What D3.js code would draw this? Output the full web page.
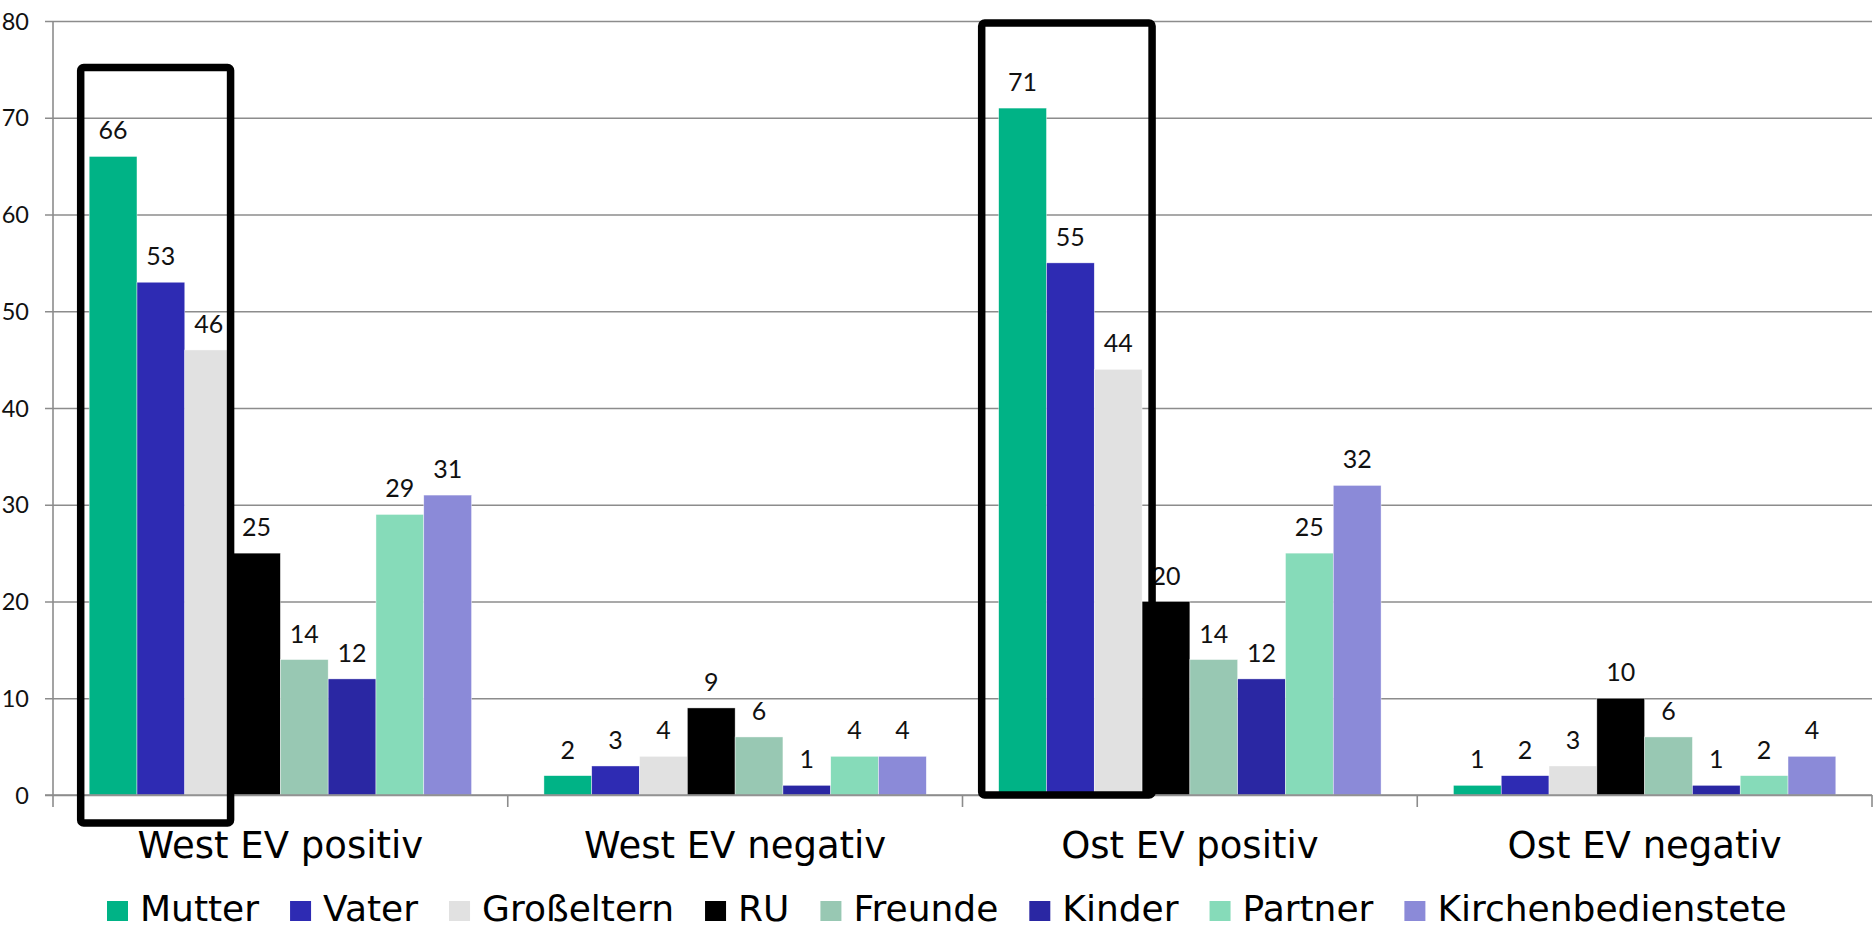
<!DOCTYPE html>
<html>
<head>
<meta charset="utf-8">
<script src="https://cdn.jsdelivr.net/npm/d3@7"></script>
<style>
  html, body { margin: 0; padding: 0; background: #fff; }
  svg { display: block; }
</style>
</head>
<body>
<svg id="chart" width="1874" height="930"></svg>
<script>
// Groups on the x axis
const categories = ["West EV positiv", "West EV negativ", "Ost EV positiv", "Ost EV negativ"];

// Persons named in the survey (legend order)
const seriesNames = ["Mutter", "Vater", "Großeltern", "RU", "Freunde", "Kinder", "Partner", "Kirchenbedienstete"];
const seriesColors = ["#00b386", "#2e2bb3", "#e1e1e1", "#000000", "#98c8b3", "#2a27a3", "#86dbb9", "#8b8ad8"];

// Percent values per group, in series order
const westPositiv = [66, 53, 46, 25, 14, 12, 29, 31];
const westNegativ = [2, 3, 4, 9, 6, 1, 4, 4];
const ostPositiv  = [71, 55, 44, 20, 14, 12, 25, 32];
const ostNegativ  = [1, 2, 3, 10, 6, 1, 2, 4];
const groupValues = [westPositiv, westNegativ, ostPositiv, ostNegativ];

// Y axis ticks
const yTicks = [0, 10, 20, 30, 40, 50, 60, 70, 80];

// Highlight frames: group, first/last series covered, top/bottom value
const frameGroups = ["West EV positiv", "Ost EV positiv"];
const frameFirst = ["Mutter", "Mutter"];
const frameLast = ["Großeltern", "Großeltern"];
const frameTop = [75.2, 79.8];
const frameBottom = [-2.9, 0];

(function draw() {
  const svg = d3.select("#chart");
  const plotLeft = 53, plotRight = 1872, plotTop = 21, plotBottom = 795;

  const x0 = d3.scaleBand().domain(categories).range([plotLeft, plotRight]).paddingInner(0).paddingOuter(0);
  const x1 = d3.scaleBand().domain(seriesNames).range([0, x0.bandwidth()]).paddingInner(0).paddingOuter(0.757);
  const y = d3.scaleLinear().domain([0, 80]).range([plotBottom, plotTop]);
  const color = d3.scaleOrdinal().domain(seriesNames).range(seriesColors);

  const gridColor = "#8c8c8c";
  const numFont = "Lato, 'Open Sans', sans-serif";
  const textFont = "'DejaVu Sans', Verdana, sans-serif";

  // Horizontal grid lines with left tick stubs
  const yAxis = d3.axisLeft(y).tickValues(yTicks).tickSize(-(plotRight - plotLeft)).tickSizeOuter(0).tickPadding(24);
  const gy = svg.append("g").attr("transform", `translate(${plotLeft},0)`).call(yAxis);
  gy.select(".domain").remove();
  gy.selectAll(".tick line")
    .attr("x1", -8)
    .attr("stroke", gridColor).attr("stroke-width", 1.6);
  gy.selectAll(".tick text")
    .attr("font-family", numFont).attr("font-size", 23.5).attr("fill", "#111")
    .attr("text-anchor", "end").attr("dy", "0.35em");

  // Vertical axis line
  svg.append("line")
    .attr("x1", plotLeft).attr("x2", plotLeft).attr("y1", plotTop).attr("y2", plotBottom + 12)
    .attr("stroke", gridColor).attr("stroke-width", 1.6);

  // Category boundary ticks below the baseline
  const boundaries = categories.map(c => x0(c) + x0.bandwidth());
  svg.append("g").selectAll("line").data(boundaries).join("line")
    .attr("x1", d => d).attr("x2", d => d)
    .attr("y1", plotBottom).attr("y2", plotBottom + 12)
    .attr("stroke", gridColor).attr("stroke-width", 1.6);

  // Bars
  const groups = svg.append("g").selectAll("g").data(categories).join("g")
    .attr("transform", d => `translate(${x0(d)},0)`);

  const rows = (c, i) => seriesNames.map((s, j) => ({ s, v: groupValues[i][j] }));

  groups.selectAll("rect").data(rows).join("rect")
    .attr("x", d => x1(d.s))
    .attr("width", x1.bandwidth())
    .attr("y", d => y(d.v))
    .attr("height", d => y(0) - y(d.v))
    .attr("fill", d => color(d.s))
    .attr("stroke", "#fff").attr("stroke-width", 0.6).attr("stroke-opacity", 0.7);

  // Baseline drawn over the bars
  svg.append("line")
    .attr("x1", plotLeft - 8).attr("x2", plotRight).attr("y1", plotBottom).attr("y2", plotBottom)
    .attr("stroke", gridColor).attr("stroke-width", 1.6);

  // Value labels
  groups.selectAll("text.val").data(rows).join("text")
    .attr("class", "val")
    .attr("x", d => x1(d.s) + x1.bandwidth() / 2)
    .attr("y", d => y(d.v) - 17)
    .attr("text-anchor", "middle")
    .attr("font-family", numFont).attr("font-size", 25).attr("fill", "#111")
    .text(d => d.v);

  // Category labels
  svg.append("g").selectAll("text").data(categories).join("text")
    .attr("x", d => x0(d) + x0.bandwidth() / 2)
    .attr("y", 858)
    .attr("text-anchor", "middle")
    .attr("font-family", textFont).attr("font-size", 37).attr("fill", "#000")
    .text(d => d);

  // Highlight frames around the parent bars
  const padL = [8.5, 17], padR = [-2, 10];
  svg.append("g").selectAll("rect").data(frameGroups).join("rect")
    .attr("x", (g, i) => x0(g) + x1(frameFirst[i]) - padL[i])
    .attr("width", (g, i) => (x1(frameLast[i]) + x1.bandwidth() + padR[i]) - (x1(frameFirst[i]) - padL[i]))
    .attr("y", (g, i) => y(frameTop[i]))
    .attr("height", (g, i) => y(frameBottom[i]) - y(frameTop[i]))
    .attr("rx", 3).attr("ry", 3)
    .attr("fill", "none").attr("stroke", "#000").attr("stroke-width", 7.5);

  // Legend
  const legend = svg.append("g");
  let lx = 107;
  seriesNames.forEach(s => {
    const item = legend.append("g");
    item.append("rect")
      .attr("x", lx).attr("y", 901).attr("width", 21).attr("height", 20)
      .attr("fill", color(s));
    const t = item.append("text")
      .attr("x", lx + 33).attr("y", 921)
      .attr("font-family", textFont).attr("font-size", 36).attr("fill", "#000")
      .text(s);
    lx += 33 + t.node().getComputedTextLength() + 31;
  });
})();
</script>
</body>
</html>
